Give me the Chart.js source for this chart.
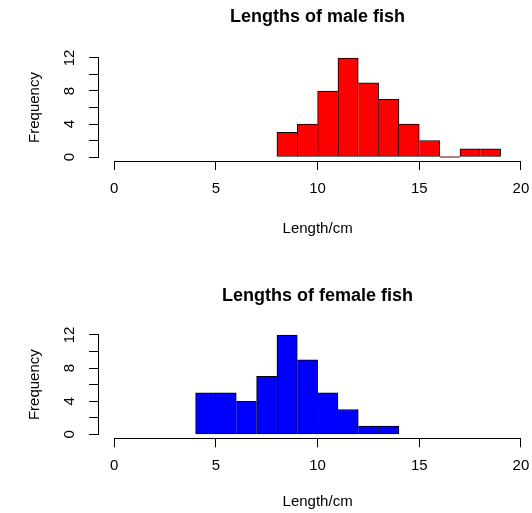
<!DOCTYPE html>
<html>
<head>
<meta charset="utf-8">
<title>Lengths of fish</title>
<script src="https://cdn.jsdelivr.net/npm/chart.js@4.4.1/dist/chart.umd.min.js"></script>
<style>
  html, body { margin: 0; padding: 0; background: #fff; overflow: hidden; }
  #wrap { position: relative; width: 532px; height: 513px; overflow: hidden; }
  canvas { position: absolute; left: 0; }
</style>
</head>
<body>
<div id="wrap">
  <canvas id="maleChart" width="560" height="256" style="top:0"></canvas>
  <canvas id="femaleChart" width="560" height="257" style="top:256px"></canvas>
</div>
<script>
const maleBinStarts = [8, 9, 10, 11, 12, 13, 14, 15, 16, 17, 18]
const maleCounts = [3, 4, 8, 12, 9, 7, 4, 2, 0, 1, 1]
const femaleBinStarts = [4, 5, 6, 7, 8, 9, 10, 11, 12, 13]
const femaleCounts = [5, 5, 4, 7, 12, 9, 5, 3, 1, 1]
const binWidth = 1

const xTicks = [0, 5, 10, 15, 20]
const yTicks = [0, 2, 4, 6, 8, 10, 12]
const yLabelled = [0, 4, 8, 12]

Chart.defaults.font.family = "'Liberation Sans', Arial, Helvetica, sans-serif"
Chart.defaults.font.size = 15
Chart.defaults.color = '#000'

// R style axes: the axis line only runs from first to last tick
const rAxes = {
  id: 'rAxes',
  afterDraw(chart) {
    const { ctx, chartArea } = chart
    const x = chart.scales.x
    const y = chart.scales.y
    const crisp = (v) => Math.round(v - 0.5) + 0.5
    ctx.save()
    ctx.strokeStyle = '#000'
    ctx.lineWidth = 1
    ctx.beginPath()
    const by = crisp(chartArea.bottom)
    ctx.moveTo(crisp(x.getPixelForValue(xTicks[0])) - 0.5, by)
    ctx.lineTo(crisp(x.getPixelForValue(xTicks[xTicks.length - 1])) + 0.5, by)
    const lx = crisp(chartArea.left)
    ctx.moveTo(lx, crisp(y.getPixelForValue(yTicks[0])) + 0.5)
    ctx.lineTo(lx, crisp(y.getPixelForValue(yTicks[yTicks.length - 1])) - 0.5)
    ctx.stroke()
    ctx.restore()
  },
}

// shared edges between bins get drawn once, by the taller bar
function edgeWidths(counts) {
  return (ctx) => {
    const i = ctx.dataIndex
    const v = counts[i]
    return {
      top: 1,
      bottom: 1,
      left: i === 0 || counts[i - 1] < v ? 1 : 0,
      right: i === counts.length - 1 || counts[i + 1] <= v ? 1 : 0,
    }
  }
}

const tickGrid = {
  display: true,
  offset: false,
  drawOnChartArea: false,
  drawTicks: true,
  tickLength: 9,
  color: '#000',
  tickColor: '#000',
  lineWidth: 1,
}

function makeHistogram(canvasId, title, starts, counts, colour, box) {
  const points = starts.map((s, i) => ({ x: s + binWidth / 2, y: counts[i] }))
  return new Chart(document.getElementById(canvasId), {
    type: 'bar',
    data: {
      datasets: [
        {
          label: title,
          data: points,
          backgroundColor: colour,
          borderColor: '#000',
          borderWidth: edgeWidths(counts),
          borderSkipped: false,
          barPercentage: 1,
          categoryPercentage: 1,
          minBarLength: 1,
        },
      ],
    },
    plugins: [rAxes],
    options: {
      responsive: false,
      animation: false,
      devicePixelRatio: 1,
      layout: { padding: { left: 0, right: 22.8, top: 0, bottom: 0 } },
      plugins: {
        legend: { display: false },
        tooltip: { enabled: false },
        title: {
          display: true,
          text: title,
          fullSize: false,
          color: '#000',
          font: { size: 18, weight: 'bold' },
          padding: { top: box.titleTop, bottom: box.titleBottom },
        },
      },
      scales: {
        x: {
          type: 'linear',
          min: -0.8,
          max: 20.8,
          offset: false,
          afterBuildTicks: (s) => { s.ticks = xTicks.map((v) => ({ value: v })) },
          afterFit: (s) => { s.height = box.xHeight },
          grid: tickGrid,
          border: { display: false },
          ticks: { autoSkip: false, maxRotation: 0, padding: box.tickPad },
          title: {
            display: true,
            text: 'Length/cm',
            padding: { top: 0, bottom: box.xTitlePad },
          },
        },
        y: {
          type: 'linear',
          min: -0.48,
          max: 12.48,
          afterBuildTicks: (s) => { s.ticks = yTicks.map((v) => ({ value: v })) },
          afterFit: (s) => { s.width = 98 },
          grid: tickGrid,
          border: { display: false },
          ticks: {
            autoSkip: false,
            minRotation: 90,
            maxRotation: 90,
            crossAlign: 'center',
            padding: 11,
            callback: (v) => (yLabelled.includes(v) ? String(v) : ''),
          },
          title: {
            display: true,
            text: 'Frequency',
            padding: { top: 26, bottom: 0 },
          },
        },
      },
    },
  })
}

makeHistogram('maleChart', 'Lengths of male fish', maleBinStarts, maleCounts, '#ff0000', {
  titleTop: 6.7, titleBottom: 25.7, xHeight: 95, tickPad: 10, xTitlePad: 18,
})
makeHistogram('femaleChart', 'Lengths of female fish', femaleBinStarts, femaleCounts, '#0000ff', {
  titleTop: 29, titleBottom: 24.4, xHeight: 74.7, tickPad: 10, xTitlePad: 2,
})
</script>
</body>
</html>
